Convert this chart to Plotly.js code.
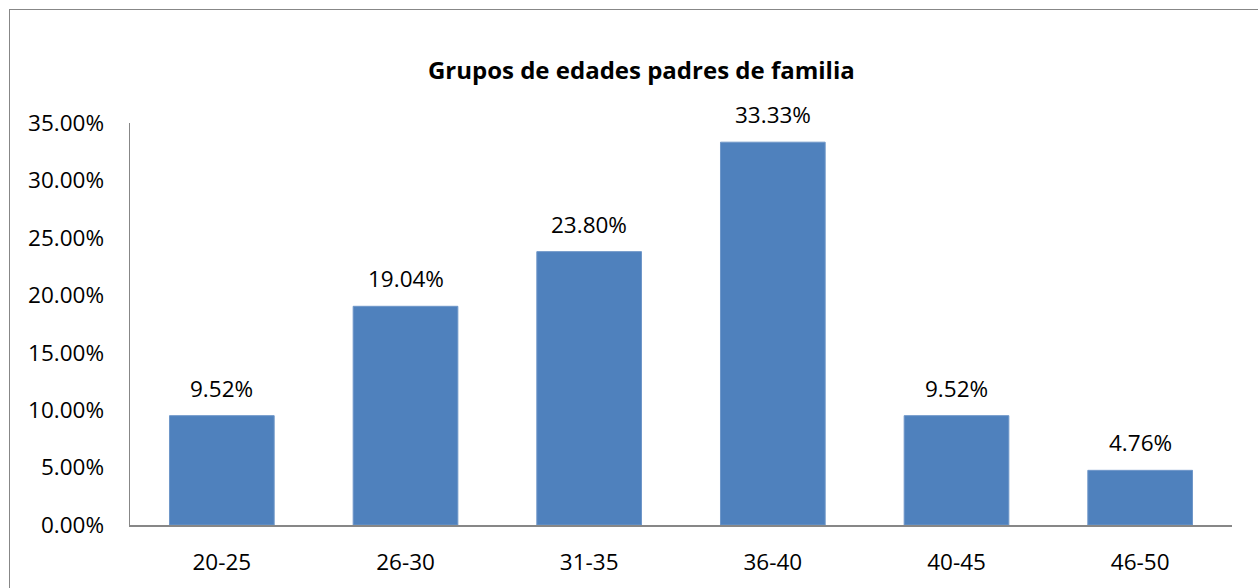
<!DOCTYPE html>
<html>
<head>
<meta charset="utf-8">
<script src="https://cdn.plot.ly/plotly-3.0.1.min.js"></script>
<style>
html,body{margin:0;padding:0;background:#fff;overflow:hidden;}
#frame{position:absolute;left:9px;top:9px;width:1300px;height:700px;border-left:1.5px solid #878787;border-top:1.5px solid #878787;pointer-events:none;z-index:5;}
#chart{position:absolute;left:0;top:0;width:1258px;height:588px;}
</style>
</head>
<body>
<div id="chart"></div>
<div id="frame"></div>
<script>
var categories = ["20-25", "26-30", "31-35", "36-40", "40-45", "46-50"];
var values = [9.52, 19.04, 23.80, 33.33, 9.52, 4.76];
var valueLabels = ["9.52%", "19.04%", "23.80%", "33.33%", "9.52%", "4.76%"];
var chartTitle = "Grupos de edades padres de familia";

var font = "Open Sans, Calibri, Carlito, sans-serif";

var trace = {
  type: "bar",
  x: categories,
  y: values,
  marker: {color: "#4F81BD", line: {color: "#6F97C9", width: 1}},
  width: 0.57,
  hoverinfo: "skip"
};

var annotations = categories.map(function(c, i){
  return {
    x: c, y: values[i], xref: "x", yref: "y",
    text: valueLabels[i], showarrow: false,
    yanchor: "bottom", yshift: 10,
    font: {family: font, size: 22.5, color: "#000"}
  };
});

var layout = {
  width: 1258, height: 588,
  margin: {l: 130, r: 26, t: 123, b: 63},
  paper_bgcolor: "#fff", plot_bgcolor: "#fff",
  showlegend: false,
  bargap: 0.43,
  title: {
    text: "<b>" + chartTitle + "</b>",
    x: 0.464, xref: "paper", xanchor: "center",
    y: 1 - 71/588, yref: "container", yanchor: "middle",
    font: {family: font, size: 24, color: "#000"}
  },
  xaxis: {
    type: "category",
    showline: true, linecolor: "#878787", linewidth: 1.5,
    ticks: "", showgrid: false, zeroline: false,
    tickfont: {family: font, size: 22.5, color: "#000"},
    ticklabelstandoff: 16
  },
  yaxis: {
    range: [0, 35], dtick: 5, tick0: 0,
    tickformat: ".2f", ticksuffix: "%",
    showline: true, linecolor: "#878787", linewidth: 1.5,
    ticks: "", showgrid: false, zeroline: false,
    tickfont: {family: font, size: 22.5, color: "#000"},
    ticklabelstandoff: 20
  },
  annotations: annotations
};

Plotly.newPlot("chart", [trace], layout, {displayModeBar: false, staticPlot: true});
</script>
</body>
</html>
